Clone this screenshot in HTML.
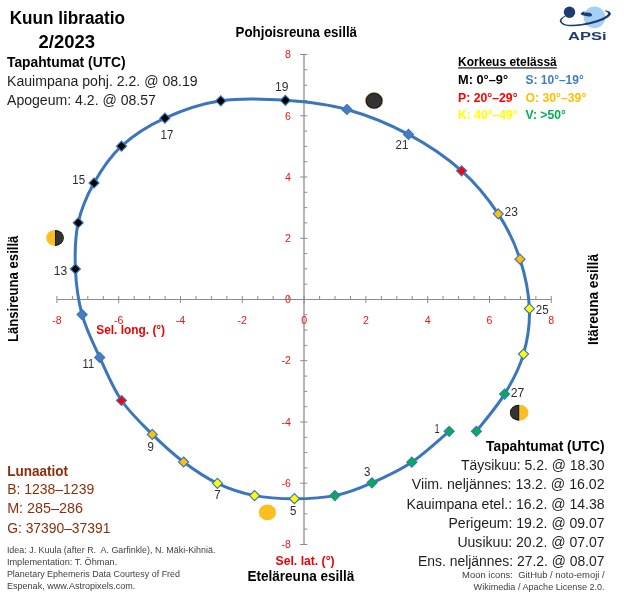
<!DOCTYPE html>
<html lang="fi"><head><meta charset="utf-8"><title>Kuun libraatio 2/2023</title>
<style>html,body{margin:0;padding:0;background:#fff}svg{display:block}text{font-family:"Liberation Sans",sans-serif;fill:#000}.m{font-size:14px;fill:#1e1e1e}.b{font-weight:bold;fill:#000}.s{font-size:9px;fill:#404040}.d{font-size:12.3px;fill:#2e2e2e}.t{font-size:10.6px;fill:#F01414}.l{font-size:12.6px;font-weight:bold}.br{fill:#8A2F0C}</style></head><body>
<svg width="624" height="596" viewBox="0 0 624 596">
<rect width="624" height="596" fill="#fff"/>
<g stroke="#8C8C8C" stroke-width="1" fill="none" shape-rendering="auto">
<line x1="56.9" y1="299.5" x2="551.3" y2="299.5"/>
<line x1="304.0" y1="54.5" x2="304.0" y2="544.5" stroke="#A9A9A9" stroke-width="1.7"/>
<path d="M56.9 296.0V303.0M300.1 544.5H307.3M72.4 296.0V299.5M304.1 529.1H307.3M87.8 296.0V299.5M304.1 513.8H307.3M103.3 296.0V299.5M304.1 498.5H307.3M118.7 296.0V303.0M300.1 483.2H307.3M134.2 296.0V299.5M304.1 467.9H307.3M149.6 296.0V299.5M304.1 452.6H307.3M165.1 296.0V299.5M304.1 437.3H307.3M180.5 296.0V303.0M300.1 422.0H307.3M196.0 296.0V299.5M304.1 406.7H307.3M211.4 296.0V299.5M304.1 391.4H307.3M226.9 296.0V299.5M304.1 376.1H307.3M242.3 296.0V303.0M300.1 360.7H307.3M257.8 296.0V299.5M304.1 345.4H307.3M273.2 296.0V299.5M304.1 330.1H307.3M288.7 296.0V299.5M304.1 314.8H307.3M304.1 296.0V303.0M300.1 299.5H307.3M319.6 296.0V299.5M304.1 284.2H307.3M335.0 296.0V299.5M304.1 268.9H307.3M350.5 296.0V299.5M304.1 253.6H307.3M365.9 296.0V303.0M300.1 238.3H307.3M381.4 296.0V299.5M304.1 222.9H307.3M396.8 296.0V299.5M304.1 207.6H307.3M412.2 296.0V299.5M304.1 192.3H307.3M427.7 296.0V303.0M300.1 177.0H307.3M443.1 296.0V299.5M304.1 161.7H307.3M458.6 296.0V299.5M304.1 146.4H307.3M474.1 296.0V299.5M304.1 131.1H307.3M489.5 296.0V303.0M300.1 115.8H307.3M505.0 296.0V299.5M304.1 100.5H307.3M520.4 296.0V299.5M304.1 85.2H307.3M535.9 296.0V299.5M304.1 69.8H307.3M551.3 296.0V303.0M300.1 54.5H307.3"/>
</g>
<text class="t" x="56.9" y="324.2" text-anchor="middle">-8</text>
<text class="t" x="118.7" y="324.2" text-anchor="middle">-6</text>
<text class="t" x="180.5" y="324.2" text-anchor="middle">-4</text>
<text class="t" x="242.3" y="324.2" text-anchor="middle">-2</text>
<text class="t" x="365.9" y="324.2" text-anchor="middle">2</text>
<text class="t" x="427.7" y="324.2" text-anchor="middle">4</text>
<text class="t" x="489.5" y="324.2" text-anchor="middle">6</text>
<text class="t" x="551.3" y="324.2" text-anchor="middle">8</text>
<text class="t" x="291.0" y="548.2" text-anchor="end">-8</text>
<text class="t" x="291.0" y="486.9" text-anchor="end">-6</text>
<text class="t" x="291.0" y="425.7" text-anchor="end">-4</text>
<text class="t" x="291.0" y="364.4" text-anchor="end">-2</text>
<text class="t" x="291.0" y="303.2" text-anchor="end">0</text>
<text class="t" x="291.0" y="242.0" text-anchor="end">2</text>
<text class="t" x="291.0" y="180.7" text-anchor="end">4</text>
<text class="t" x="291.0" y="119.5" text-anchor="end">6</text>
<text class="t" x="291.0" y="58.2" text-anchor="end">8</text>
<text class="t" x="304.1" y="324.2" text-anchor="middle">0</text>
<path d="M449.2 431.3C443.0 436.4 424.7 453.6 411.8 462.2C398.9 470.8 384.8 477.2 372.0 482.8C359.2 488.4 347.8 493.0 334.9 495.6C322.0 498.2 307.8 498.7 294.4 498.7C281.0 498.7 267.4 498.2 254.6 495.6C241.8 493.0 229.2 488.9 217.4 483.3C205.6 477.7 194.4 470.1 183.6 462.0C172.8 453.9 162.7 444.6 152.3 434.4C142.0 424.1 130.3 413.3 121.5 400.5C112.7 387.7 106.3 371.7 99.7 357.4C93.1 343.1 86.1 329.3 82.1 314.6C78.0 299.9 76.1 284.3 75.4 269.0C74.8 253.7 75.1 237.1 78.2 222.8C81.3 208.5 86.8 195.8 94.0 183.0C101.2 170.2 109.7 157.0 121.5 146.2C133.3 135.4 148.3 125.8 164.9 118.2C181.5 110.6 200.7 103.8 220.8 100.8C240.9 97.8 264.4 98.8 285.4 100.3C306.4 101.8 326.4 103.8 346.9 109.5C367.4 115.2 389.4 124.2 408.5 134.4C427.6 144.6 446.7 157.6 461.6 170.8C476.6 184.0 488.5 199.1 498.2 213.8C507.9 228.5 514.8 243.4 520.0 259.2C525.2 275.0 528.8 292.9 529.4 308.7C530.0 324.5 527.6 339.9 523.5 354.1C519.4 368.3 512.5 381.2 504.6 394.1C496.8 407.0 481.1 425.1 476.4 431.3" fill="none" stroke="#3B76BC" stroke-width="3.0" stroke-linecap="round" stroke-linejoin="round"/>
<path d="M449.2 426.3L454.2 431.3L449.2 436.3L444.2 431.3Z" fill="#00B050" stroke="#3B76BC" stroke-width="1.2"/>
<path d="M411.8 457.2L416.8 462.2L411.8 467.2L406.8 462.2Z" fill="#00B050" stroke="#3B76BC" stroke-width="1.2"/>
<path d="M372.0 477.8L377.0 482.8L372.0 487.8L367.0 482.8Z" fill="#00B050" stroke="#3B76BC" stroke-width="1.2"/>
<path d="M334.9 490.6L339.9 495.6L334.9 500.6L329.9 495.6Z" fill="#00B050" stroke="#3B76BC" stroke-width="1.2"/>
<path d="M294.4 493.7L299.4 498.7L294.4 503.7L289.4 498.7Z" fill="#FFFF00" stroke="#3B76BC" stroke-width="1.2"/>
<path d="M254.6 490.6L259.6 495.6L254.6 500.6L249.6 495.6Z" fill="#FFFF00" stroke="#3B76BC" stroke-width="1.2"/>
<path d="M217.4 478.3L222.4 483.3L217.4 488.3L212.4 483.3Z" fill="#FFFF00" stroke="#3B76BC" stroke-width="1.2"/>
<path d="M183.6 457.0L188.6 462.0L183.6 467.0L178.6 462.0Z" fill="#FFC000" stroke="#3B76BC" stroke-width="1.2"/>
<path d="M152.3 429.4L157.3 434.4L152.3 439.4L147.3 434.4Z" fill="#FFC000" stroke="#3B76BC" stroke-width="1.2"/>
<path d="M121.5 395.5L126.5 400.5L121.5 405.5L116.5 400.5Z" fill="#FF0000" stroke="#3B76BC" stroke-width="1.2"/>
<path d="M99.7 352.4L104.7 357.4L99.7 362.4L94.7 357.4Z" fill="#4A7DC0" stroke="#3B76BC" stroke-width="1.2"/>
<path d="M82.1 309.6L87.1 314.6L82.1 319.6L77.1 314.6Z" fill="#4A7DC0" stroke="#3B76BC" stroke-width="1.2"/>
<path d="M75.4 264.0L80.4 269.0L75.4 274.0L70.4 269.0Z" fill="#000000" stroke="#3B76BC" stroke-width="1.2"/>
<path d="M78.2 217.8L83.2 222.8L78.2 227.8L73.2 222.8Z" fill="#000000" stroke="#3B76BC" stroke-width="1.2"/>
<path d="M94.0 178.0L99.0 183.0L94.0 188.0L89.0 183.0Z" fill="#000000" stroke="#3B76BC" stroke-width="1.2"/>
<path d="M121.5 141.2L126.5 146.2L121.5 151.2L116.5 146.2Z" fill="#000000" stroke="#3B76BC" stroke-width="1.2"/>
<path d="M164.9 113.2L169.9 118.2L164.9 123.2L159.9 118.2Z" fill="#000000" stroke="#3B76BC" stroke-width="1.2"/>
<path d="M220.8 95.8L225.8 100.8L220.8 105.8L215.8 100.8Z" fill="#000000" stroke="#3B76BC" stroke-width="1.2"/>
<path d="M285.4 95.3L290.4 100.3L285.4 105.3L280.4 100.3Z" fill="#000000" stroke="#3B76BC" stroke-width="1.2"/>
<path d="M346.9 104.5L351.9 109.5L346.9 114.5L341.9 109.5Z" fill="#4A7DC0" stroke="#3B76BC" stroke-width="1.2"/>
<path d="M408.5 129.4L413.5 134.4L408.5 139.4L403.5 134.4Z" fill="#4A7DC0" stroke="#3B76BC" stroke-width="1.2"/>
<path d="M461.6 165.8L466.6 170.8L461.6 175.8L456.6 170.8Z" fill="#FF0000" stroke="#3B76BC" stroke-width="1.2"/>
<path d="M498.2 208.8L503.2 213.8L498.2 218.8L493.2 213.8Z" fill="#FFC000" stroke="#3B76BC" stroke-width="1.2"/>
<path d="M520.0 254.2L525.0 259.2L520.0 264.2L515.0 259.2Z" fill="#FFC000" stroke="#3B76BC" stroke-width="1.2"/>
<path d="M529.4 303.7L534.4 308.7L529.4 313.7L524.4 308.7Z" fill="#FFFF00" stroke="#3B76BC" stroke-width="1.2"/>
<path d="M523.5 349.1L528.5 354.1L523.5 359.1L518.5 354.1Z" fill="#FFFF00" stroke="#3B76BC" stroke-width="1.2"/>
<path d="M504.6 389.1L509.6 394.1L504.6 399.1L499.6 394.1Z" fill="#00B050" stroke="#3B76BC" stroke-width="1.2"/>
<path d="M476.4 426.3L481.4 431.3L476.4 436.3L471.4 431.3Z" fill="#00B050" stroke="#3B76BC" stroke-width="1.2"/>
<text class="d" x="434.6" y="432.6" textLength="5.1" lengthAdjust="spacingAndGlyphs">1</text>
<text class="d" x="364" y="476.4" textLength="6.4" lengthAdjust="spacingAndGlyphs">3</text>
<text class="d" x="290" y="515.4" textLength="6.4" lengthAdjust="spacingAndGlyphs">5</text>
<text class="d" x="214.2" y="499.0" textLength="6.4" lengthAdjust="spacingAndGlyphs">7</text>
<text class="d" x="147.6" y="450.5" textLength="6.4" lengthAdjust="spacingAndGlyphs">9</text>
<text class="d" x="82.6" y="367.7" textLength="11.5" lengthAdjust="spacingAndGlyphs">11</text>
<text class="d" x="53.8" y="274.6" textLength="13.4" lengthAdjust="spacingAndGlyphs">13</text>
<text class="d" x="72.3" y="183.8" textLength="12.8" lengthAdjust="spacingAndGlyphs">15</text>
<text class="d" x="160.5" y="138.7" textLength="12.8" lengthAdjust="spacingAndGlyphs">17</text>
<text class="d" x="275.1" y="90.8" textLength="13.4" lengthAdjust="spacingAndGlyphs">19</text>
<text class="d" x="395.6" y="148.5" textLength="12.9" lengthAdjust="spacingAndGlyphs">21</text>
<text class="d" x="504.6" y="215.6" textLength="13.4" lengthAdjust="spacingAndGlyphs">23</text>
<text class="d" x="535.8" y="313.6" textLength="12.8" lengthAdjust="spacingAndGlyphs">25</text>
<text class="d" x="510.8" y="396.7" textLength="13.6" lengthAdjust="spacingAndGlyphs">27</text>
<text class="b" x="9.7" y="23.6" textLength="115.3" lengthAdjust="spacingAndGlyphs" style="font-size:17.6px">Kuun libraatio</text>
<text class="b" x="38.5" y="48" textLength="56.5" lengthAdjust="spacingAndGlyphs" style="font-size:17.6px">2/2023</text>
<text class="b m" x="7" y="67" textLength="118.6" lengthAdjust="spacingAndGlyphs" style="fill:#000">Tapahtumat (UTC)</text>
<text class="m" x="7" y="85.9" textLength="190.7" lengthAdjust="spacingAndGlyphs" fill="#222">Kauimpana pohj. 2.2. @ 08.19</text>
<text class="m" x="7" y="104.6" textLength="148.9" lengthAdjust="spacingAndGlyphs">Apogeum: 4.2. @ 08.57</text>
<text class="b m" x="235.6" y="36.7" textLength="121.4" lengthAdjust="spacingAndGlyphs">Pohjoisreuna esillä</text>
<text class="b m" x="247.4" y="581" textLength="107.0" lengthAdjust="spacingAndGlyphs">Eteläreuna esillä</text>
<text class="b" x="275.6" y="564.6" textLength="59.0" lengthAdjust="spacingAndGlyphs" style="font-size:12.5px;fill:#EE0000">Sel. lat. (°)</text>
<text class="b" x="96.2" y="333.9" textLength="68.9" lengthAdjust="spacingAndGlyphs" style="font-size:12.5px;fill:#EE0000">Sel. long. (°)</text>
<text class="b m" transform="translate(18.3 342.1) rotate(-90)" textLength="106.5" lengthAdjust="spacingAndGlyphs">Länsireuna esillä</text>
<text class="b m" transform="translate(597.8 345) rotate(-90)" textLength="91" lengthAdjust="spacingAndGlyphs">Itäreuna esillä</text>
<text class="l" x="458.1" y="66.2" textLength="98.7" lengthAdjust="spacingAndGlyphs">Korkeus etelässä</text>
<rect x="458.1" y="67.4" width="98.7" height="1.1" fill="#000"/>
<text class="l" x="458" y="83.9" textLength="50.1" lengthAdjust="spacingAndGlyphs">M: 0°–9°</text>
<text class="l" x="525.5" y="83.9" textLength="58.2" lengthAdjust="spacingAndGlyphs" style="fill:#3E7CC4">S: 10°–19°</text>
<text class="l" x="458" y="101.7" textLength="59.6" lengthAdjust="spacingAndGlyphs" style="fill:#FF0000">P: 20°–29°</text>
<text class="l" x="525.5" y="101.7" textLength="60.8" lengthAdjust="spacingAndGlyphs" style="fill:#FFC000">O: 30°–39°</text>
<text class="l" x="458" y="118.5" textLength="59.6" lengthAdjust="spacingAndGlyphs" style="fill:#FFFF00">K: 40°–49°</text>
<text class="l" x="525.5" y="118.5" textLength="40.3" lengthAdjust="spacingAndGlyphs" style="fill:#00B050">V: &gt;50°</text>
<text class="b m br" x="7.2" y="475.6" textLength="60.9" lengthAdjust="spacingAndGlyphs">Lunaatiot</text>
<text class="m br" x="7.2" y="494.4" textLength="87.0" lengthAdjust="spacingAndGlyphs">B: 1238–1239</text>
<text class="m br" x="7.2" y="513.1" textLength="75.7" lengthAdjust="spacingAndGlyphs">M: 285–286</text>
<text class="m br" x="7.2" y="532.5" textLength="103.2" lengthAdjust="spacingAndGlyphs">G: 37390–37391</text>
<text class="s" x="6.9" y="552.7" textLength="208.5" lengthAdjust="spacingAndGlyphs" xml:space="preserve" style="white-space:pre">Idea: J. Kuula (after R.  A. Garfinkle), N. Mäki-Kihniä.</text>
<text class="s" x="6.9" y="564.5" textLength="110.4" lengthAdjust="spacingAndGlyphs">Implementation: T. Öhman.</text>
<text class="s" x="6.9" y="577.0" textLength="173.1" lengthAdjust="spacingAndGlyphs">Planetary Ephemeris Data Courtesy of Fred</text>
<text class="s" x="6.9" y="588.7" textLength="128.5" lengthAdjust="spacingAndGlyphs">Espenak, www.Astropixels.com.</text>
<text class="b m" x="486.1" y="451.0" textLength="118.5" lengthAdjust="spacingAndGlyphs">Tapahtumat (UTC)</text>
<text class="m" x="461" y="470.2" textLength="143.6" lengthAdjust="spacingAndGlyphs">Täysikuu: 5.2. @ 18.30</text>
<text class="m" x="411.8" y="489.2" textLength="192.8" lengthAdjust="spacingAndGlyphs">Viim. neljännes: 13.2. @ 16.02</text>
<text class="m" x="406.5" y="508.7" textLength="198.1" lengthAdjust="spacingAndGlyphs">Kauimpana etel.: 16.2. @ 14.38</text>
<text class="m" x="448.5" y="527.6" textLength="156.1" lengthAdjust="spacingAndGlyphs">Perigeum: 19.2. @ 09.07</text>
<text class="m" x="457.4" y="546.6" textLength="147.2" lengthAdjust="spacingAndGlyphs">Uusikuu: 20.2. @ 07.07</text>
<text class="m" x="418" y="565.9" textLength="186.6" lengthAdjust="spacingAndGlyphs">Ens. neljännes: 27.2. @ 08.07</text>
<text class="s" x="462.1" y="578.2" textLength="142.5" lengthAdjust="spacingAndGlyphs" xml:space="preserve" style="white-space:pre">Moon icons:  GitHub / noto-emoji /</text>
<text class="s" x="473.6" y="589.7" textLength="131.0" lengthAdjust="spacingAndGlyphs">Wikimedia / Apache License 2.0.</text>
<ellipse cx="267.4" cy="512.4" rx="8.6" ry="7.9" fill="#FBBF22"/>
<ellipse cx="374.1" cy="100.8" rx="8.7" ry="8.2" fill="#0c0c0c" stroke="#D9B25A" stroke-width="0.5"/>
<ellipse cx="374.1" cy="100.8" rx="7.6" ry="7.1" fill="#333333"/>
<ellipse cx="55.0" cy="237.9" rx="8.8" ry="8.0" fill="#FBBF22"/>
<path d="M55.0 229.9A8.8 8.0 0 0 1 55.0 245.9Z" fill="#0c0c0c"/>
<path d="M55.7 231.0A7.700000000000001 6.9 0 0 1 55.7 244.8Z" fill="#333333"/>
<ellipse cx="519.2" cy="412.7" rx="9.3" ry="8.0" fill="#FBBF22"/>
<path d="M519.2 404.7A9.3 8.0 0 0 0 519.2 420.7Z" fill="#0c0c0c"/>
<path d="M518.5 405.8A8.200000000000001 6.9 0 0 0 518.5 419.59999999999997Z" fill="#333333"/>
<g>
<circle cx="594.5" cy="17.3" r="10.8" fill="#A6CFF5"/>
<circle cx="569.5" cy="12.3" r="5.7" fill="#1E3C72"/>
<path d="M564.6 15.8C564.0 16.2 561.7 17.6 560.9 18.5C560.1 19.4 559.5 20.4 559.9 21.5C560.3 22.6 561.5 24.1 563.5 24.9C565.5 25.7 568.9 26.1 572.0 26.2C575.1 26.3 578.5 26.1 582.0 25.6C585.5 25.1 589.5 24.3 593.0 23.4C596.5 22.5 600.3 21.3 603.0 20.2C605.7 19.1 607.7 17.6 609.0 16.5C610.3 15.4 610.9 14.7 610.9 13.8C610.9 13.0 610.2 12.0 609.2 11.4C608.2 10.8 605.7 10.4 605.0 10.2L605 10.9C605.4 11.2 607.1 11.9 607.6 12.4C608.1 12.9 608.1 13.5 607.8 14.2C607.4 14.8 606.7 15.5 605.5 16.3C604.3 17.1 602.8 17.9 600.5 18.8C598.2 19.7 595.2 20.7 592.0 21.6C588.8 22.5 584.3 23.5 581.0 24.0C577.7 24.5 574.7 24.8 572.0 24.8C569.3 24.8 566.5 24.5 564.8 23.9C563.1 23.3 562.0 22.1 561.6 21.3C561.2 20.5 561.8 19.7 562.4 18.9C563.0 18.1 564.7 17.0 565.2 16.6Z" fill="#1E3C72"/>
<path d="M584.9 10.9C584.6 10.9 582.9 11.8 582.2 12.3C581.5 12.8 580.7 13.4 580.7 13.9C580.8 14.4 581.5 14.9 582.5 15.3C583.5 15.7 585.7 16.0 587.0 16.2C588.3 16.4 589.7 16.6 590.5 16.4C591.3 16.2 591.9 15.7 592.0 15.2C592.1 14.7 591.8 13.8 591.0 13.4C590.2 13.0 588.7 12.7 587.5 12.5C586.3 12.3 584.4 12.7 584.0 12.4C583.6 12.1 585.2 10.9 584.9 10.9Z" fill="#1E3C72"/>
<text x="568" y="39.9" textLength="38.5" lengthAdjust="spacingAndGlyphs" style="font-size:10.7px;font-weight:bold;fill:#1E3C72">APSi</text>
</g>
</svg></body></html>
